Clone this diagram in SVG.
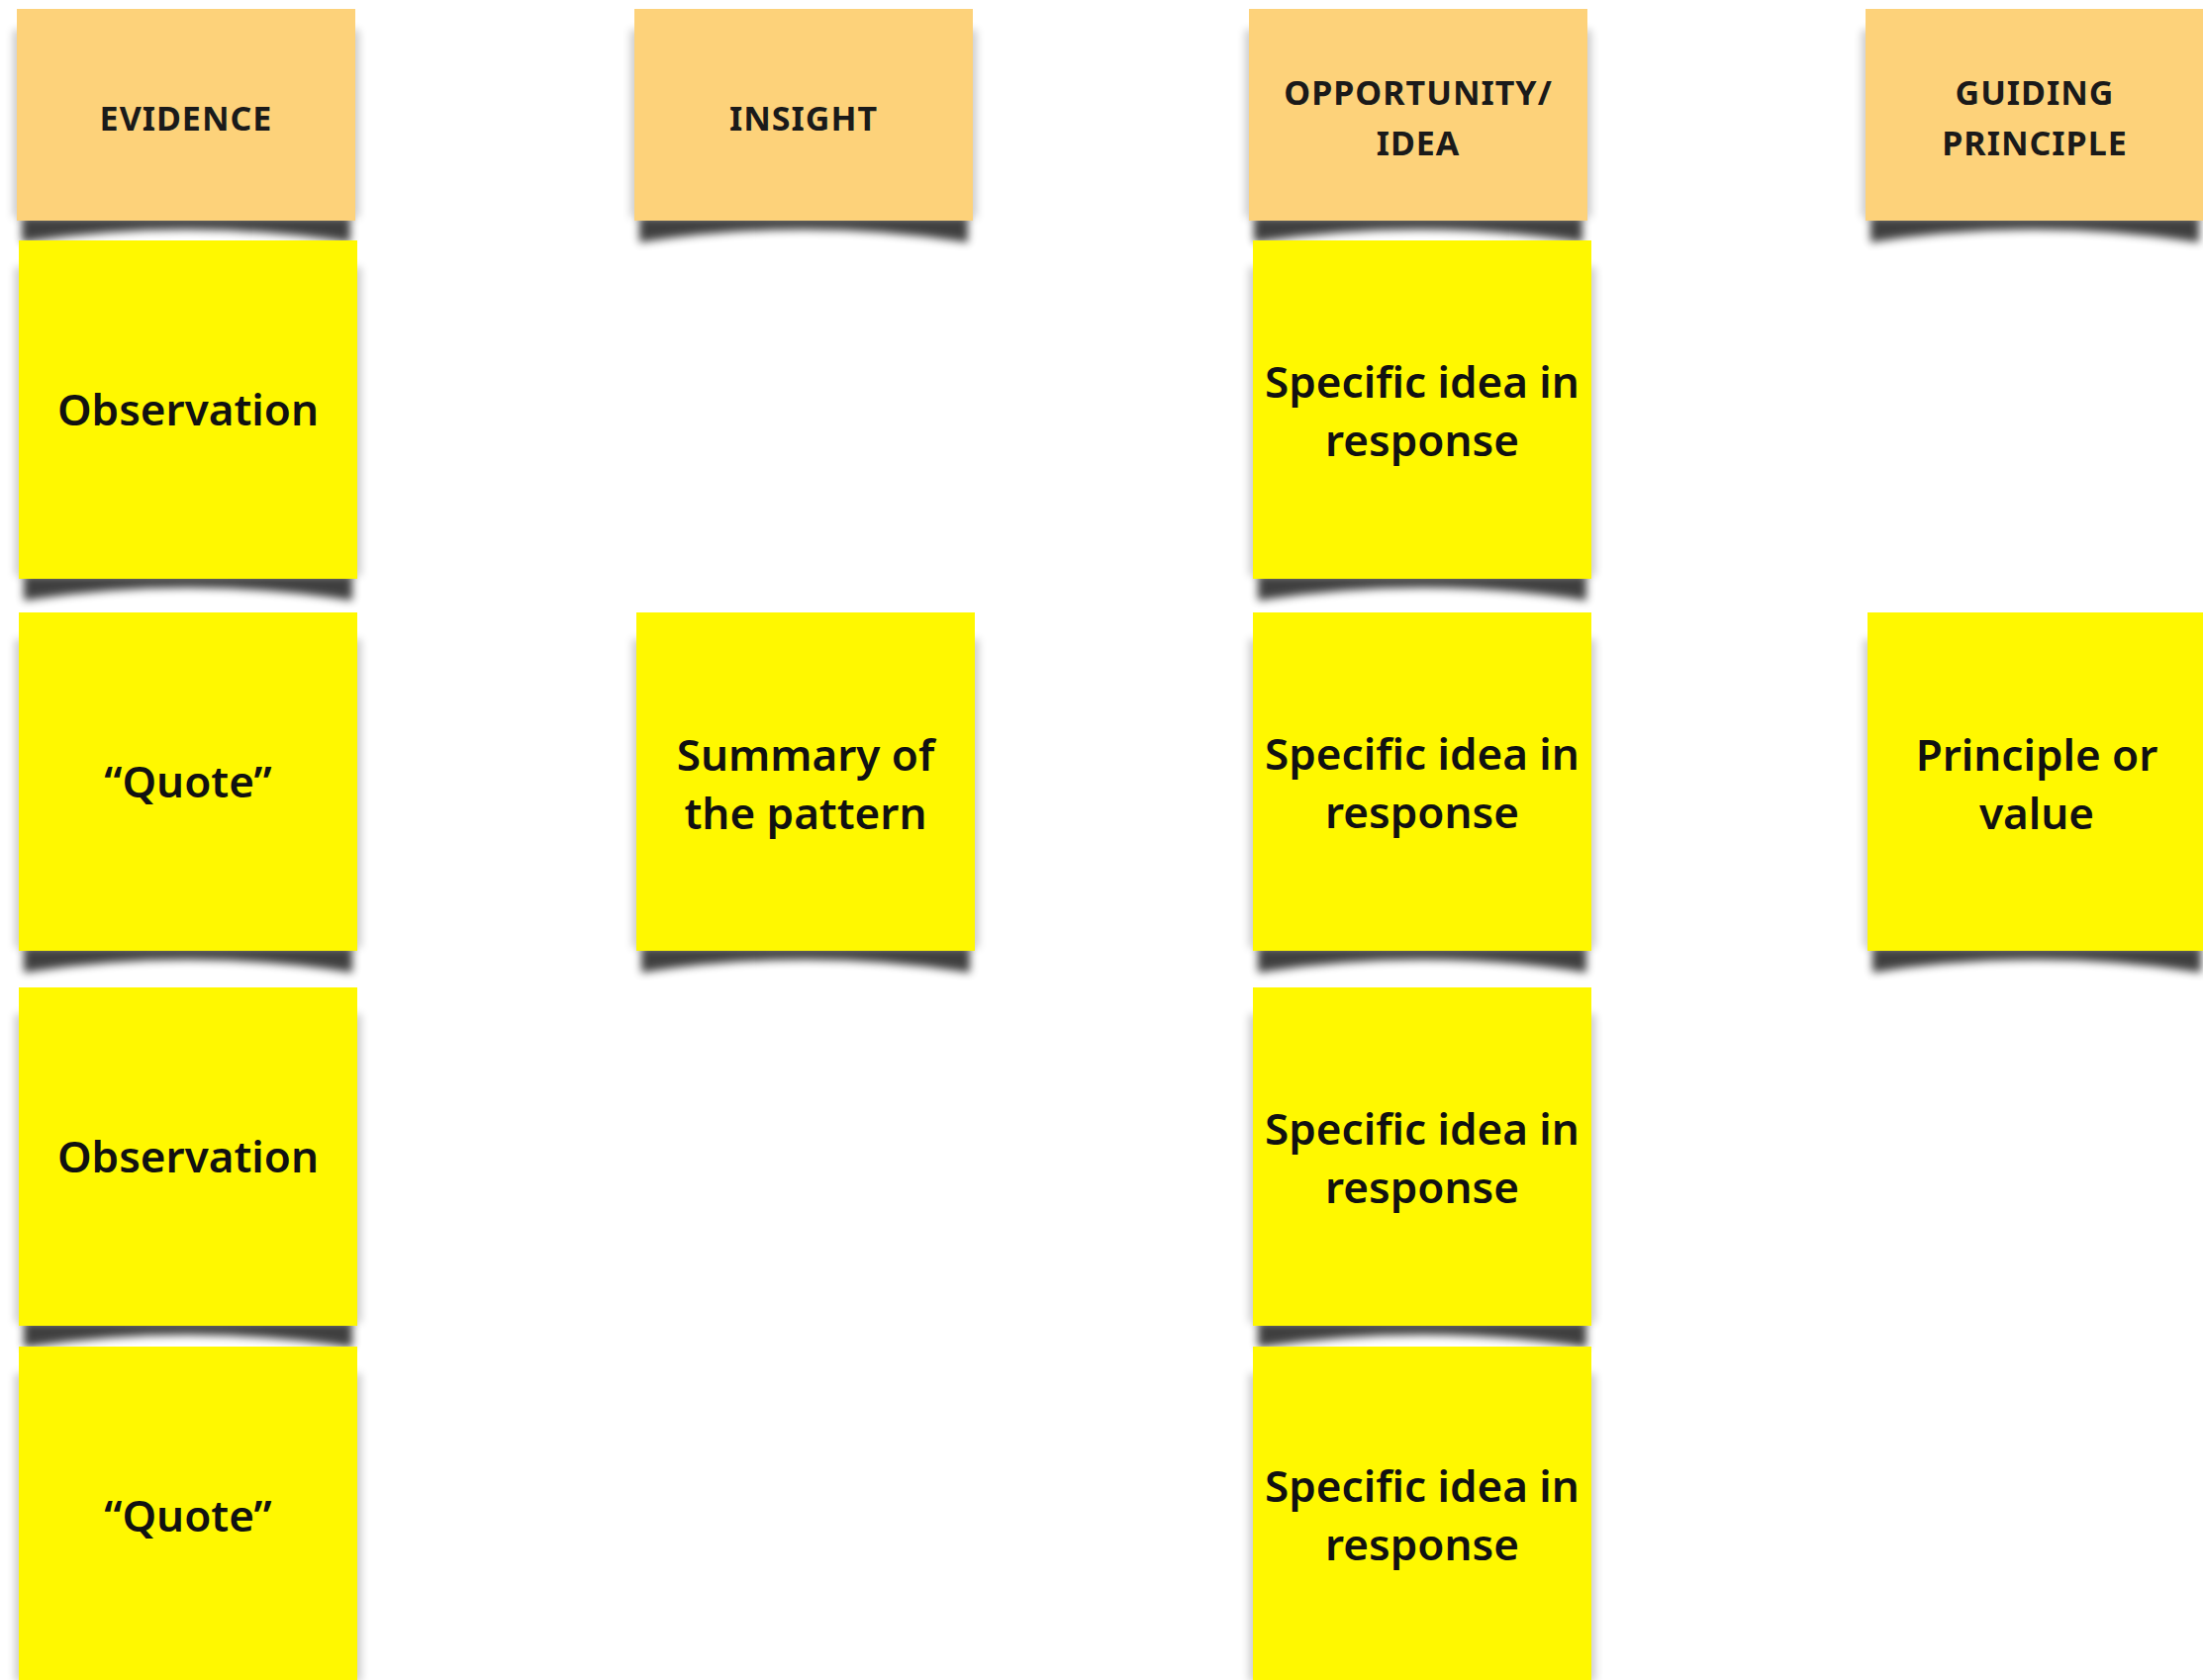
<svg xmlns="http://www.w3.org/2000/svg" xmlns:xlink="http://www.w3.org/1999/xlink" width="2226" height="1698" viewBox="0 0 2226 1698">
<style>
.hdr{fill:#FDD27A}
.note{fill:#FFF800}
.t{font-family:"Noto Sans","Liberation Sans",sans-serif;font-size:44px;font-weight:600;fill:#111;text-anchor:middle}
.h{font-family:"Noto Sans","Liberation Sans",sans-serif;font-size:34px;font-weight:700;fill:#1a1a1a;text-anchor:middle;letter-spacing:1px}
.side{fill:#000;opacity:0.2;filter:url(#blur6)}
.curl{fill:#000;opacity:0.75;filter:url(#blur3)}
</style>
<defs>
<filter id="blur3" x="-10%" y="-100%" width="120%" height="300%"><feGaussianBlur stdDeviation="4.5"/></filter>
<filter id="blur6" x="-10%" y="-10%" width="120%" height="120%"><feGaussianBlur stdDeviation="4"/></filter>
<path id="curl" d="M5,-4 L337,-4 L337,22 Q171,-4 5,22 Z"/>
</defs>
<rect width="2226" height="1698" fill="#fff"/>

<g id="evidence-header">
<rect class="side" x="13" y="30" width="350" height="190"/>
<use href="#curl" class="curl" x="17" y="223"/>
<rect class="hdr" x="17" y="9" width="342" height="214"/>
<text class="h" x="188" y="132">EVIDENCE</text>
</g>
<g id="insight-header">
<rect class="side" x="637" y="30" width="350" height="190"/>
<use href="#curl" class="curl" x="641" y="223"/>
<rect class="hdr" x="641" y="9" width="342" height="214"/>
<text class="h" x="812" y="132">INSIGHT</text>
</g>
<g id="opportunity-header">
<rect class="side" x="1258" y="30" width="350" height="190"/>
<use href="#curl" class="curl" x="1262" y="223"/>
<rect class="hdr" x="1262" y="9" width="342" height="214"/>
<text class="h" x="1433" y="106">OPPORTUNITY/</text>
<text class="h" x="1433" y="157">IDEA</text>
</g>
<g id="guiding-header">
<rect class="side" x="1881" y="30" width="350" height="190"/>
<use href="#curl" class="curl" x="1885" y="223"/>
<rect class="hdr" x="1885" y="9" width="342" height="214"/>
<text class="h" x="2056" y="106">GUIDING</text>
<text class="h" x="2056" y="157">PRINCIPLE</text>
</g>

<g id="evidence-1">
<rect class="side" x="15" y="270" width="350" height="312"/>
<use href="#curl" class="curl" x="19" y="585"/>
<rect class="note" x="19" y="243" width="342" height="342"/>
<text class="t" x="190" y="430">Observation</text>
</g>
<g id="evidence-2">
<rect class="side" x="15" y="646" width="350" height="312"/>
<use href="#curl" class="curl" x="19" y="961"/>
<rect class="note" x="19" y="619" width="342" height="342"/>
<text class="t" x="190" y="806">“Quote”</text>
</g>
<g id="evidence-3">
<rect class="side" x="15" y="1025" width="350" height="312"/>
<use href="#curl" class="curl" x="19" y="1340"/>
<rect class="note" x="19" y="998" width="342" height="342"/>
<text class="t" x="190" y="1185">Observation</text>
</g>
<g id="evidence-4">
<rect class="side" x="15" y="1388" width="350" height="312"/>
<rect class="note" x="19" y="1361" width="342" height="342"/>
<text class="t" x="190" y="1548">“Quote”</text>
</g>

<g id="insight-1">
<rect class="side" x="639" y="646" width="350" height="312"/>
<use href="#curl" class="curl" x="643" y="961"/>
<rect class="note" x="643" y="619" width="342" height="342"/>
<text class="t" x="814" y="779">Summary of</text>
<text class="t" x="814" y="838">the pattern</text>
</g>

<g id="idea-1">
<rect class="side" x="1262" y="270" width="350" height="312"/>
<use href="#curl" class="curl" x="1266" y="585"/>
<rect class="note" x="1266" y="243" width="342" height="342"/>
<text class="t" x="1437" y="402">Specific idea in</text>
<text class="t" x="1437" y="461">response</text>
</g>
<g id="idea-2">
<rect class="side" x="1262" y="646" width="350" height="312"/>
<use href="#curl" class="curl" x="1266" y="961"/>
<rect class="note" x="1266" y="619" width="342" height="342"/>
<text class="t" x="1437" y="778">Specific idea in</text>
<text class="t" x="1437" y="837">response</text>
</g>
<g id="idea-3">
<rect class="side" x="1262" y="1025" width="350" height="312"/>
<use href="#curl" class="curl" x="1266" y="1340"/>
<rect class="note" x="1266" y="998" width="342" height="342"/>
<text class="t" x="1437" y="1157">Specific idea in</text>
<text class="t" x="1437" y="1216">response</text>
</g>
<g id="idea-4">
<rect class="side" x="1262" y="1388" width="350" height="312"/>
<rect class="note" x="1266" y="1361" width="342" height="342"/>
<text class="t" x="1437" y="1518">Specific idea in</text>
<text class="t" x="1437" y="1577">response</text>
</g>

<g id="principle-1">
<rect class="side" x="1883" y="646" width="350" height="312"/>
<use href="#curl" class="curl" x="1887" y="961"/>
<rect class="note" x="1887" y="619" width="342" height="342"/>
<text class="t" x="2058" y="779">Principle or</text>
<text class="t" x="2058" y="838">value</text>
</g>

<g id="connectors"></g>
</svg>
